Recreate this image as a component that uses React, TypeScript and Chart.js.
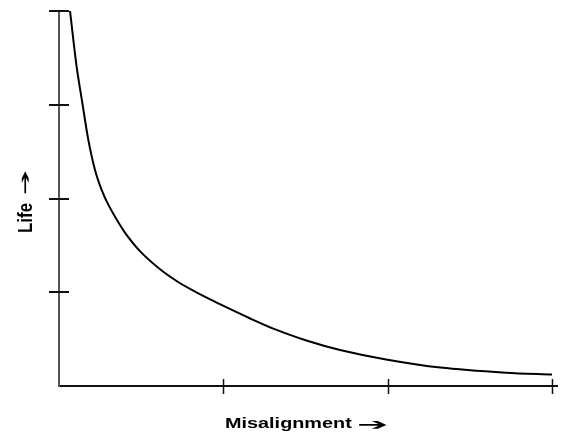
import React, { useEffect, useRef } from "react";
import { Chart, registerables } from "chart.js";

Chart.register(...registerables);

const misalignment = [0.067, 0.107, 0.142, 0.179, 0.219, 0.26, 0.3, 0.36, 0.412, 0.5, 0.615, 0.72, 0.817, 0.92, 1.02, 1.16, 1.3, 1.51, 1.71, 1.99, 2.32, 2.72, 3.0];
const life = [4.0, 3.41, 3.02, 2.62, 2.305, 2.09, 1.935, 1.75, 1.61, 1.425, 1.245, 1.115, 1.017, 0.923, 0.838, 0.723, 0.615, 0.483, 0.385, 0.283, 0.197, 0.142, 0.122];
const xTickValues = [1, 2, 3];
const yTickValues = [1, 2, 3, 4];
const xTitle = "Misalignment";
const yTitle = "Life";
const arrow = "\u2794";

const FONT_SIZE = 14.5;
const FONT = `bold ${FONT_SIZE}px "Liberation Sans", Arial, sans-serif`;
const ARROW_FONT = `${FONT_SIZE}px "DejaVu Sans", sans-serif`;

// Fit text horizontally by its ink extent, vertically by cap height
function fitText(ctx: CanvasRenderingContext2D, text: string, x0: number, x1: number, baseline: number, capH: number) {
  ctx.save();
  ctx.font = FONT;
  ctx.textAlign = "left";
  ctx.textBaseline = "alphabetic";
  const m = ctx.measureText(text);
  const inkL = -m.actualBoundingBoxLeft;
  const inkW = m.actualBoundingBoxLeft + m.actualBoundingBoxRight;
  const sx = (x1 - x0) / inkW;
  ctx.translate(x0 - inkL * sx, baseline);
  ctx.scale(sx, capH / (0.716 * FONT_SIZE));
  ctx.fillStyle = "#000";
  ctx.fillText(text, 0, 0);
  ctx.restore();
}

// Fit the ink box of text into [x0,x1] x [top,bottom]
function fitInk(ctx: CanvasRenderingContext2D, text: string, x0: number, x1: number, top: number, bottom: number) {
  ctx.save();
  ctx.font = ARROW_FONT;
  ctx.textAlign = "left";
  ctx.textBaseline = "alphabetic";
  const m = ctx.measureText(text);
  const inkW = m.actualBoundingBoxLeft + m.actualBoundingBoxRight;
  const inkH = m.actualBoundingBoxAscent + m.actualBoundingBoxDescent;
  const sx = (x1 - x0) / inkW;
  const sy = (bottom - top) / inkH;
  ctx.translate(x0 + m.actualBoundingBoxLeft * sx, top + m.actualBoundingBoxAscent * sy);
  ctx.scale(sx, sy);
  ctx.fillStyle = "#000";
  ctx.fillText(text, 0, 0);
  ctx.restore();
}

const decorPlugin = {
  id: "decor",
  afterDraw(chart: any) {
    const ctx: CanvasRenderingContext2D = chart.ctx;
    const xs = chart.scales.x;
    const ys = chart.scales.y;
    const area = chart.chartArea;
    ctx.save();
    ctx.strokeStyle = "#111";
    ctx.lineWidth = 2;
    ctx.beginPath();
    yTickValues.forEach((v) => {
      const py = Math.round(ys.getPixelForValue(v));
      ctx.moveTo(area.left - 10, py);
      ctx.lineTo(area.left + 10, py);
    });
    ctx.stroke();
    ctx.lineWidth = 1.5;
    ctx.beginPath();
    xTickValues.forEach((v) => {
      const px = Math.round(xs.getPixelForValue(v)) + 0.5;
      ctx.moveTo(px, area.bottom - 7);
      ctx.lineTo(px, area.bottom + 8);
    });
    ctx.stroke();
    ctx.restore();

    // x axis title
    fitText(ctx, xTitle, 225, 352, 428, 10.5);
    fitInk(ctx, arrow, 357, 388, 419.5, 428.5);

    // y axis title (rotated)
    ctx.save();
    ctx.translate(32, 0);
    ctx.rotate(-Math.PI / 2);
    fitText(ctx, yTitle, -233, -203, 0, 14);
    fitInk(ctx, arrow, -195, -170, -11, -3);
    ctx.restore();
  },
};

export default function App() {
  const canvasRef = useRef<HTMLCanvasElement | null>(null);

  useEffect(() => {
    if (!canvasRef.current) return;
    const chart = new Chart(canvasRef.current, {
      type: "line",
      data: {
        datasets: [
          {
            data: misalignment.map((x, i) => ({ x, y: life[i] })),
            borderColor: "#000",
            borderWidth: 2,
            pointRadius: 0,
            fill: false,
            tension: 0.3,
          },
        ],
      },
      options: {
        responsive: false,
        animation: false,
        layout: { padding: { top: 11, right: 9, left: 0, bottom: 0 } },
        plugins: { legend: { display: false }, tooltip: { enabled: false } },
        scales: {
          x: {
            type: "linear",
            min: 0,
            max: 3.03,
            ticks: { display: false },
            grid: { display: false },
            border: { display: true, color: "#111", width: 2 },
            afterFit: (scale: any) => {
              scale.height = 50;
            },
          },
          y: {
            type: "linear",
            min: 0,
            max: 4,
            ticks: { display: false },
            grid: { display: false },
            border: { display: true, color: "#555", width: 2 },
            afterFit: (scale: any) => {
              scale.width = 59;
            },
          },
        },
      },
      plugins: [decorPlugin],
    });
    return () => chart.destroy();
  }, []);

  return (
    <div style={{ position: "fixed", left: 0, top: 0, width: 566, height: 436, background: "#fff" }}>
      <canvas ref={canvasRef} width={566} height={436} style={{ display: "block" }} />
    </div>
  );
}
